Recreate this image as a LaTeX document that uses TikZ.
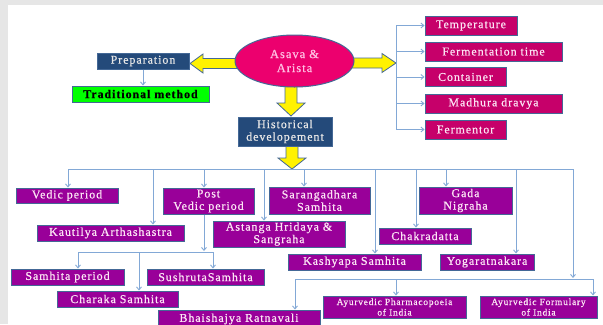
\documentclass[tikz,border=0pt]{standalone}
\usepackage{fontspec}
\setmainfont{Liberation Serif}[LetterSpace=8,FakeBold=0.6]
\usetikzlibrary{arrows.meta,shapes.geometric}
\definecolor{navy}{RGB}{36,74,122}
\definecolor{rim}{RGB}{68,104,150}
\definecolor{hotpink}{RGB}{236,0,110}
\definecolor{crimson}{RGB}{198,0,106}
\definecolor{plum}{RGB}{153,0,153}
\definecolor{lime}{RGB}{0,255,0}
\definecolor{wire}{RGB}{130,168,214}
\definecolor{frame}{RGB}{230,230,230}
\definecolor{blush}{RGB}{252,228,244}
\definecolor{rosy}{RGB}{255,190,226}

\begin{document}
\begin{tikzpicture}[x=1bp,y=-1bp,
    cell/.style={draw=rim,line width=1pt,inner sep=0pt,align=center,
      font=\fontsize{12}{12.5}\selectfont},
    dim/.style 2 args={minimum width=#1bp,minimum height=#2bp},
    navybox/.style={cell,fill=navy,text=frame},
    hotbox/.style={cell,fill=crimson,text=blush},
    plumbox/.style={cell,fill=plum,text=blush},
    smalltext/.style={font=\fontsize{9.5}{10.5}\selectfont},
    yarrow/.style={fill=yellow,draw=rim,line width=0.8pt,line join=miter},
    wireline/.style={wire,line width=0.9pt},
    wirearrow/.style={wireline,-{Straight Barb[length=3pt,width=5pt]}}]
  \useasboundingbox (0,0) rectangle (603,324);
  \fill[frame] (0,0) rectangle (603,324);
  \fill[white] (8,5) rectangle (603,324);

  \filldraw[yarrow] (190,63.5) -- ++(13,-9.5) -- ++(0,4.5) -- ++(40,0) -- ++(0,10)
    -- ++(-40,0) -- ++(0,4.5) -- cycle;
  \filldraw[yarrow] (396,63) -- ++(-14,-9.5) -- ++(0,4.5) -- ++(-40,0) -- ++(0,10)
    -- ++(40,0) -- ++(0,4.5) -- cycle;
  \filldraw[yarrow] (291,116) -- ++(-14,-13) -- ++(8,0) -- ++(0,-30) -- ++(12,0)
    -- ++(0,30) -- ++(8,0) -- cycle;
  \filldraw[yarrow] (292,169) -- ++(-14,-11) -- ++(8,0) -- ++(0,-16) -- ++(12,0)
    -- ++(0,16) -- ++(8,0) -- cycle;

  \node[ellipse,cell,fill=hotpink,text=rosy,font=\fontsize{12.5}{14}\selectfont,dim={119}{52}] (asava) at (294.5,61) {Asava \&\\Arista};
  \node[navybox,dim={92}{16}] (prep) at (143,61) {Preparation};
  \node[cell,fill=lime,text=black,font=\bfseries\fontsize{12}{12.5}\selectfont,dim={137}{16}] (trad) at (140.5,94) {Traditional method};
  \node[navybox,dim={94}{29}] (hist) at (285,131.5) {Historical\\developement};

  \node[hotbox,dim={92}{19}] (temp) at (471,25.5) {Temperature};
  \node[hotbox,dim={137}{19}] (ferm) at (493.5,51.5) {Fermentation time};
  \node[hotbox,dim={81}{19}] (cont) at (465.5,77) {Container};
  \node[hotbox,dim={137}{19}] (madh) at (493.5,103.5) {Madhura dravya};
  \node[hotbox,dim={81}{19}] (fermr) at (465.5,129.5) {Fermentor};

  \node[plumbox,dim={102}{15}] (vedic) at (67,195.5) {Vedic period};
  \node[plumbox,dim={91}{26}] (post) at (208.5,201) {Post\\Vedic period};
  \node[plumbox,dim={147}{16}] (kaut) at (110.5,233) {Kautilya Arthashastra};
  \node[plumbox,dim={101}{27}] (sar) at (319.5,200.5) {Sarangadhara\\Samhita};
  \node[plumbox,dim={132}{26}] (ast) at (279,234) {Astanga Hridaya \&\\Sangraha};
  \node[plumbox,dim={92}{16}] (chak) at (425,236) {Chakradatta};
  \node[plumbox,dim={93}{27}] (gada) at (465.5,200.5) {Gada\\Nigraha};
  \node[plumbox,dim={133}{16}] (kash) at (354.5,262) {Kashyapa Samhita};
  \node[plumbox,dim={94}{16}] (yoga) at (487,262) {Yogaratnakara};
  \node[plumbox,dim={113}{16}] (samp) at (67.5,277) {Samhita period};
  \node[plumbox,dim={117}{16}] (sush) at (205.5,277) {SushrutaSamhita};
  \node[plumbox,dim={121}{16}] (char) at (117.5,299) {Charaka Samhita};
  \node[plumbox,dim={162}{18}] (bhai) at (239,319) {Bhaishajya Ratnavali};
  \node[plumbox,smalltext,dim={143}{22}] (pharm) at (394.5,307) {Ayurvedic Pharmacopoeia\\of India};
  \node[plumbox,smalltext,dim={117}{22}] (form) at (538.5,307) {Ayurvedic Formulary\\of India};

  \draw[wirearrow] (prep.south) -- (prep.south |- trad.north);
  \draw[wireline] (temp.west -| 396,0) -- (fermr.west -| 396,0);
  \foreach \n in {temp,ferm,cont,madh,fermr}
    \draw[wirearrow] (\n.west -| 396,0) -- (\n.west);

  \draw[wireline] (68,169) -- (573,169);
  \foreach \n/\x in {vedic/68,kaut/153,post/204,ast/264,sar/304,kash/375,chak/416,gada/446,yoga/516}
    \draw[wirearrow] (\x,169) -- (\n.north -| \x,0);
  \draw[wirearrow] (573,169) -- (573,278);
  \draw[wireline] (295,279) -- (593,279);
  \foreach \n/\x in {bhai/295,pharm/396,form/593}
    \draw[wirearrow] (\x,279) -- (\n.north -| \x,0);

  \draw[wirearrow] (post.south -| 204,0) -- (204,251);
  \draw[wireline] (78,252) -- (213,252);
  \foreach \n/\x in {samp/78,char/139,sush/213}
    \draw[wirearrow] (\x,252) -- (\n.north -| \x,0);
\end{tikzpicture}
\end{document}
